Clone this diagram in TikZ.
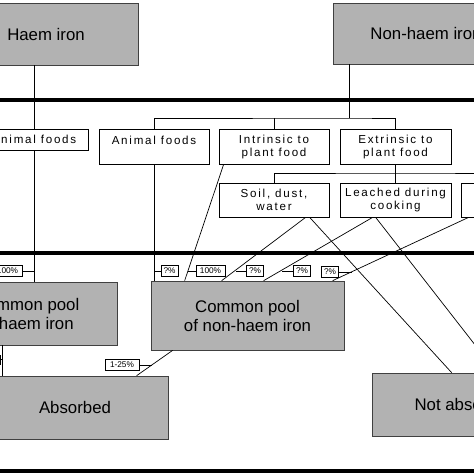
\documentclass[tikz,border=0pt]{standalone}
\usepackage{fontspec}
\setmainfont{Liberation Sans}
\newfontfamily\boxfont[LetterSpace=15]{Liberation Sans}
\usetikzlibrary{calc}

\begin{document}
\begin{tikzpicture}[x=1pt, y=-1pt,
  bigbox/.style={draw=black!75, line width=0.7pt, fill=black!30, inner sep=0pt, align=center, font=\fontsize{16.8}{19}\selectfont},
  foodbox/.style={draw, line width=0.7pt, inner sep=0pt, align=center, minimum height=35, font=\boxfont\fontsize{11.6}{13}\selectfont},
  pct/.style={draw, line width=0.6pt, inner xsep=2.5pt, inner ysep=0pt, minimum height=10.5, font=\fontsize{8.3}{9}\selectfont},
  divider/.style={line width=3.8pt},
  link/.style={line width=0.7pt}]
		\useasboundingbox (0,0) rectangle (474,474);
		\clip (0,0) rectangle (474,474);
		% dividers
		\draw[divider] (-5,100) -- (480,100);
		\draw[divider] (-5,253) -- (480,253);
		\draw[divider] (-5,471) -- (480,471);
		% sources
		\node[bigbox, minimum width=184, minimum height=62] (haem) at (46,34) {Haem iron};
		\node[bigbox, minimum width=186, minimum height=61] (nonhaem) at (426,33.5) {Non-haem iron};
		% foods
		\node[foodbox, minimum width=108, minimum height=21] (animalA) at (34,139.5) {Animal foods};
		\node[foodbox, minimum width=110] (animalB) at (154,146.5) {Animal foods\\\mbox{}};
		\node[foodbox, minimum width=110] (intrinsic) at (274,146.5) {Intrinsic to\\plant food};
		\node[foodbox, minimum width=111] (extrinsic) at (395.5,146.5) {Extrinsic to\\plant food};
		\node[foodbox, minimum width=110, minimum height=34] (soil) at (274,200) {Soil, dust,\\water};
		\node[foodbox, minimum width=111, minimum height=34] (leached) at (395.5,200) {Leached during\\cooking};
		\node[foodbox, minimum width=110, minimum height=34] (other) at (516,200) {};
		% pools and outcome
		\node[bigbox, minimum width=180, minimum height=63] (hpool) at (27,313.5) {Common pool\\of haem iron};
		\node[bigbox, minimum width=193, minimum height=69] (npool) at (247.5,315.5) {Common pool\\of non-haem iron};
		\node[bigbox, minimum width=186, minimum height=63] (absorbed) at (75,407.5) {Absorbed};
		\node[bigbox, minimum width=186, minimum height=63] (notabs) at (465,404.5) {Not absorbed};
		% percentages
		\node[pct, minimum width=29] (pA) at (7.5,271) {100\%};
		\node[pct] (pB) at (169.5,271) {?\%};
		\node[pct, minimum width=29] (pC) at (210.5,271) {100\%};
		\node[pct] (pD) at (255,271) {?\%};
		\node[pct] (pE) at (302,271) {?\%};
		\node[pct] (pF) at (330,272) {?\%};
		\node[pct, minimum width=31, minimum height=9] (pG) at (-15,359.5) {};
		\node[pct, minimum width=34] (pH) at (122,365) {1-25\%};
		% haem branch
		\draw[link] (animalA |- haem.south) -- (animalA.north);
		\draw[link] (animalA.south) -- (animalA |- hpool.north);
		\draw[link] (pA.east) -- (pA.east -| animalA.south);
		% non-haem tree
		\coordinate (split1) at (349,118);
		\coordinate (split2) at (395.5,173);
		\draw[link] (split1 |- nonhaem.south) -- (split1);
		\draw[link] (animalB.north) |- (split1) -| (extrinsic.north);
		\draw[link] (intrinsic.north) -- (intrinsic.north |- split1);
		\draw[link] (extrinsic.south) -- (leached.north);
		\draw[link] (soil.north) |- (split2) -| (other.north);
		% into the pools
		\draw[link] (animalB.south) -- (animalB.south |- npool.north);
		\draw[link] (pB.west) -- (pB.west -| animalB.south);
		\draw[link] ($(intrinsic.south west)+(5,0)$) -- ($(npool.north west)+(34,0)$);
		\draw[link] (pC.west) -- ++(-7.4,0);
		\draw[link] ($(soil.south west)+(87,0)$) -- ($(npool.north west)+(71,0)$);
		\draw[link] (pD.west) -- ++(-10.3,0);
		\draw[link] ($(soil.south west)+(91,0)$) -- ($(notabs.north west)+(80,0)$);
		\draw[link] ($(leached.south west)+(33,0)$) -- ($(npool.north west)+(113,0)$);
		\draw[link] (pE.west) -- ++(-11,0);
		\draw[link] ($(leached.south west)+(36,0)$) -- ($(notabs.north west)+(125,0)$);
		\draw[link] ($(other.south west)+(8,0)$) -- ($(npool.north west)+(182,0)$);
		\draw[link] (pF.east) -- ++(13.5,0);
		% absorption
		\coordinate (hpa) at ($(absorbed.north west)+(21,0)$);
		\draw[link] (hpa |- hpool.south) -- (hpa);
		\draw[link] (pG.east) -- (pG.east -| hpa);
		\draw[link] ($(npool.south west)+(22,0)$) -- ($(absorbed.north west)+(155,0)$);
		\draw[link] (pH.east) -- ++(13,0);
	\end{tikzpicture}
\end{document}
